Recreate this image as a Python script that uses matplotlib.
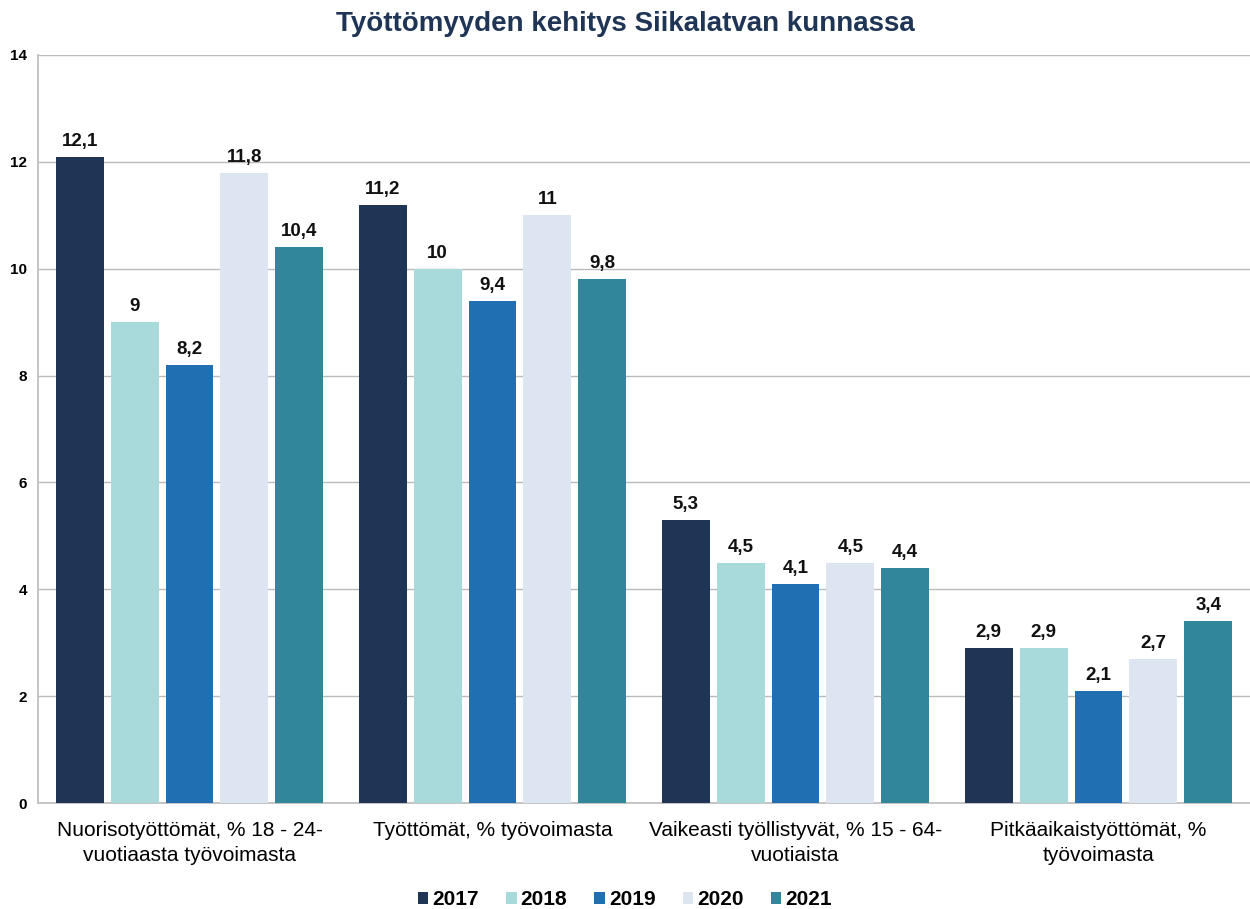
import numpy as np
import matplotlib.pyplot as plt

plt.rcParams['font.family'] = ['Liberation Sans', 'DejaVu Sans']

# Data
categories = ['Nuorisotyöttömät, % 18 - 24-\nvuotiaasta työvoimasta',
              'Työttömät, % työvoimasta',
              'Vaikeasti työllistyvät, % 15 - 64-\nvuotiaista',
              'Pitkäaikaistyöttömät, %\ntyövoimasta']
years = ['2017', '2018', '2019', '2020', '2021']
v2017 = [12.1, 11.2, 5.3, 2.9]
v2018 = [9, 10, 4.5, 2.9]
v2019 = [8.2, 9.4, 4.1, 2.1]
v2020 = [11.8, 11, 4.5, 2.7]
v2021 = [10.4, 9.8, 4.4, 3.4]
series = [v2017, v2018, v2019, v2020, v2021]
colors = ['#1F3556', '#A8DADB', '#1F6FB2', '#DCE5F1', '#31869B']

fig = plt.figure(figsize=(12.5, 9.09), dpi=100)
ax = fig.add_axes([0.0304, 0.1166, 0.9696, 0.8229])

x = np.arange(len(categories))
step = 0.181
width = 0.158
for i, (vals, c) in enumerate(zip(series, colors)):
    pos = x + (i - 2) * step
    bars = ax.bar(pos, vals, width, color=c, label=years[i], zorder=3)
    for b, v in zip(bars, vals):
        txt = ('%g' % v).replace('.', ',')
        ax.annotate(txt, (b.get_x() + b.get_width() / 2, v), xytext=(0, 5),
                    textcoords='offset points', ha='center', va='bottom',
                    fontsize=13.5, fontweight='bold', color='#111111')

ax.set_ylim(0, 14)
ax.set_xlim(-0.5, 3.5)
ax.set_yticks(range(0, 15, 2))
ax.set_yticklabels([str(t) for t in range(0, 15, 2)], fontsize=11, fontweight='bold')
ax.set_xticks(x)
ax.set_xticklabels(categories, fontsize=15, linespacing=1.4)
ax.tick_params(axis='both', length=0)
ax.tick_params(axis='y', pad=8)
ax.tick_params(axis='x', pad=13)
ax.grid(axis='y', color='#BBBBBB', linewidth=1, zorder=0)
for s in ['top', 'right']:
    ax.spines[s].set_visible(False)
for s in ['left', 'bottom']:
    ax.spines[s].set_color('#BBBBBB')
    ax.spines[s].set_linewidth(1.2)

fig.suptitle('Työttömyyden kehitys Siikalatvan kunnassa', x=0.5, y=0.988,
             fontsize=20, fontweight='bold', color='#1F3556')

leg = fig.legend(loc='lower center', bbox_to_anchor=(0.5, -0.021), ncol=5,
                 frameon=False, prop={'weight': 'bold', 'size': 15},
                 handlelength=0.5, handleheight=0.5, handletextpad=0.2,
                 columnspacing=1.3)

fig.savefig('out.png', dpi=100)
